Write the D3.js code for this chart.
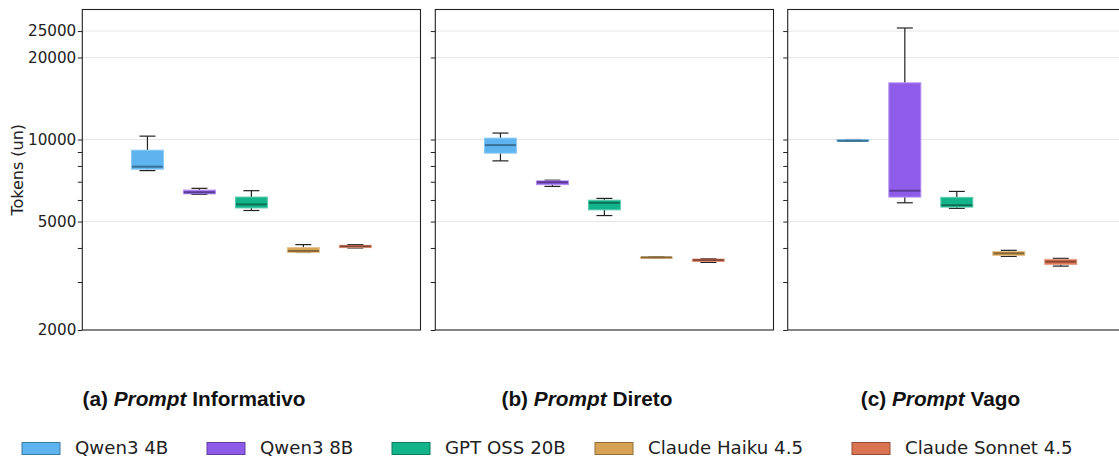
<!DOCTYPE html>
<html>
<head>
<meta charset="utf-8">
<script src="https://cdn.jsdelivr.net/npm/d3@7"></script>
<style>
  html, body { margin: 0; padding: 0; background: #fff; }
  svg { display: block; }
</style>
</head>
<body>
<svg id="chart" width="1119" height="458"></svg>
<script>
// ---------------- DATA ----------------
const models = ["Qwen3 4B", "Qwen3 8B", "GPT OSS 20B", "Claude Haiku 4.5", "Claude Sonnet 4.5"];
const modelColors = ["#5eb4ee", "#8f5ce9", "#14b48b", "#d6a354", "#db7453"];
const panelLetters = ["(a) ", "(b) ", "(c) "];
const panelNames = [" Informativo", " Direto", " Vago"];
// each row: [whisker low, Q1, median, Q3, whisker high]
const informativo = [
  [7690, 7780, 7950, 9140, 10290],
  [6290, 6320, 6400, 6520, 6620],
  [5490, 5610, 5780, 6150, 6490],
  [3850, 3855, 3900, 4010, 4115],
  [4000, 4012, 4056, 4090, 4115]
];
const direto = [
  [8350, 8910, 9540, 10120, 10560],
  [6730, 6830, 6970, 7050, 7090],
  [5260, 5520, 5860, 5990, 6080],
  [3685, 3688, 3694, 3700, 3703],
  [3540, 3570, 3610, 3642, 3654]
];
const vago = [
  [9860, 9870, 9890, 9990, 10000],
  [5860, 6150, 6490, 16140, 25660],
  [5590, 5650, 5740, 6135, 6450],
  [3726, 3758, 3823, 3878, 3921],
  [3432, 3481, 3563, 3633, 3664]
];
const yMajorTicks = [2000, 5000, 10000, 20000, 25000];
const yMinorTicks = [3000, 4000, 6000, 7000, 8000, 9000];
const yLabel = "Tokens (un)";

// ---------------- LAYOUT ----------------
const svg = d3.select("#chart");
const panelData = [informativo, direto, vago];
const panelLeft = [82.3, 435.3, 787.7];
const panelW = 338.2;
const plotTop = 9.5, plotBottom = 330;
const titleCenters = [194, 587, 940.5];
const titleBaseline = 406;
const legendX = [22, 207, 392, 595, 852];

const y = d3.scaleLog().domain([2000, 30000]).range([plotBottom, plotTop]);
const x = d3.scaleBand().domain(models).range([0, panelW])
  .paddingInner(0.385).paddingOuter(0.946);

const fillColor = d3.scaleOrdinal().domain(models).range(modelColors);
const edgeColor = m => d3.interpolateRgb(fillColor(m), "#ffffff")(0.3);
const medianColor = m => d3.color(fillColor(m)).darker(1.3).formatHex();
const swatchStroke = m => d3.color(fillColor(m)).darker(1.1).formatHex();

panelData.forEach((data, pi) => {
  const g = svg.append("g").attr("transform", `translate(${panelLeft[pi]},0)`);

  // gridlines
  g.append("g").selectAll("line")
    .data(yMajorTicks.filter(t => t > 2000))
    .join("line")
    .attr("x1", 0).attr("x2", panelW)
    .attr("y1", d => y(d)).attr("y2", d => y(d))
    .attr("stroke", "#e6e6e6").attr("stroke-width", 1);

  // axis (major with labels on first panel)
  const axis = d3.axisLeft(y)
    .tickValues(yMajorTicks.concat(yMinorTicks))
    .tickSize(4.5).tickPadding(1.5)
    .tickFormat(d => (pi === 0 && yMajorTicks.includes(d)) ? String(d) : "");
  const ag = g.append("g").call(axis);
  ag.select(".domain").remove();
  ag.selectAll(".tick line").attr("stroke", "#222").attr("stroke-width", 1);
  ag.selectAll(".tick text")
    .attr("font-family", "DejaVu Sans")
    .attr("font-size", 15.2)
    .attr("fill", "#222");

  // boxes
  const bw = x.bandwidth();
  const items = g.append("g").selectAll("g")
    .data(data.map((s, i) => ({ model: models[i], s })))
    .join("g")
    .attr("transform", d => `translate(${x(d.model)},0)`);

  // whiskers
  items.append("line")
    .attr("x1", bw / 2).attr("x2", bw / 2)
    .attr("y1", d => y(d.s[3])).attr("y2", d => y(d.s[4]))
    .attr("stroke", "#222").attr("stroke-width", 1.2);
  items.append("line")
    .attr("x1", bw / 2).attr("x2", bw / 2)
    .attr("y1", d => y(d.s[0])).attr("y2", d => y(d.s[1]))
    .attr("stroke", "#222").attr("stroke-width", 1.2);
  // caps
  [0, 4].forEach(k => {
    items.append("line")
      .attr("x1", bw / 4).attr("x2", bw * 3 / 4)
      .attr("y1", d => y(d.s[k])).attr("y2", d => y(d.s[k]))
      .attr("stroke", "#222").attr("stroke-width", 1.2);
  });
  // box
  items.append("rect")
    .attr("x", 0).attr("width", bw)
    .attr("y", d => y(d.s[3]))
    .attr("height", d => Math.max(1, y(d.s[1]) - y(d.s[3])))
    .attr("fill", d => fillColor(d.model))
    .attr("stroke", d => edgeColor(d.model))
    .attr("stroke-width", 1);
  // median
  items.append("line")
    .attr("x1", 0.5).attr("x2", bw - 0.5)
    .attr("y1", d => y(d.s[2])).attr("y2", d => y(d.s[2]))
    .attr("stroke", d => medianColor(d.model))
    .attr("stroke-width", 2);

  // frame
  g.append("rect")
    .attr("x", 0).attr("y", plotTop)
    .attr("width", panelW).attr("height", plotBottom - plotTop)
    .attr("fill", "none").attr("stroke", "#222").attr("stroke-width", 1.1);

  // title
  const t = svg.append("text")
    .attr("x", titleCenters[pi]).attr("y", titleBaseline)
    .attr("text-anchor", "middle")
    .attr("font-family", "Liberation Sans, Arial, sans-serif")
    .attr("font-weight", "bold")
    .attr("font-size", 20.8)
    .attr("fill", "#111");
  t.append("tspan").text(panelLetters[pi]);
  t.append("tspan").attr("font-style", "italic").text("Prompt");
  t.append("tspan").text(panelNames[pi]);
});

// y label
svg.append("text")
  .attr("transform", `translate(23,${(plotTop + plotBottom) / 2}) rotate(-90)`)
  .attr("text-anchor", "middle")
  .attr("font-family", "DejaVu Sans")
  .attr("font-size", 16)
  .attr("fill", "#222")
  .text(yLabel);

// legend
const legend = svg.append("g");
const swW = 38, swH = 12, swY = 442.5, textBase = 453.5;
models.forEach((m, i) => {
  const lx = legendX[i];
  legend.append("rect")
    .attr("x", lx).attr("y", swY).attr("width", swW).attr("height", swH)
    .attr("fill", fillColor(m)).attr("stroke", swatchStroke(m)).attr("stroke-width", 1);
  legend.append("text")
    .attr("x", lx + swW + 15).attr("y", textBase)
    .attr("font-family", "DejaVu Sans")
    .attr("font-size", 18.2)
    .attr("fill", "#222")
    .text(m);
});
</script>
</body>
</html>
